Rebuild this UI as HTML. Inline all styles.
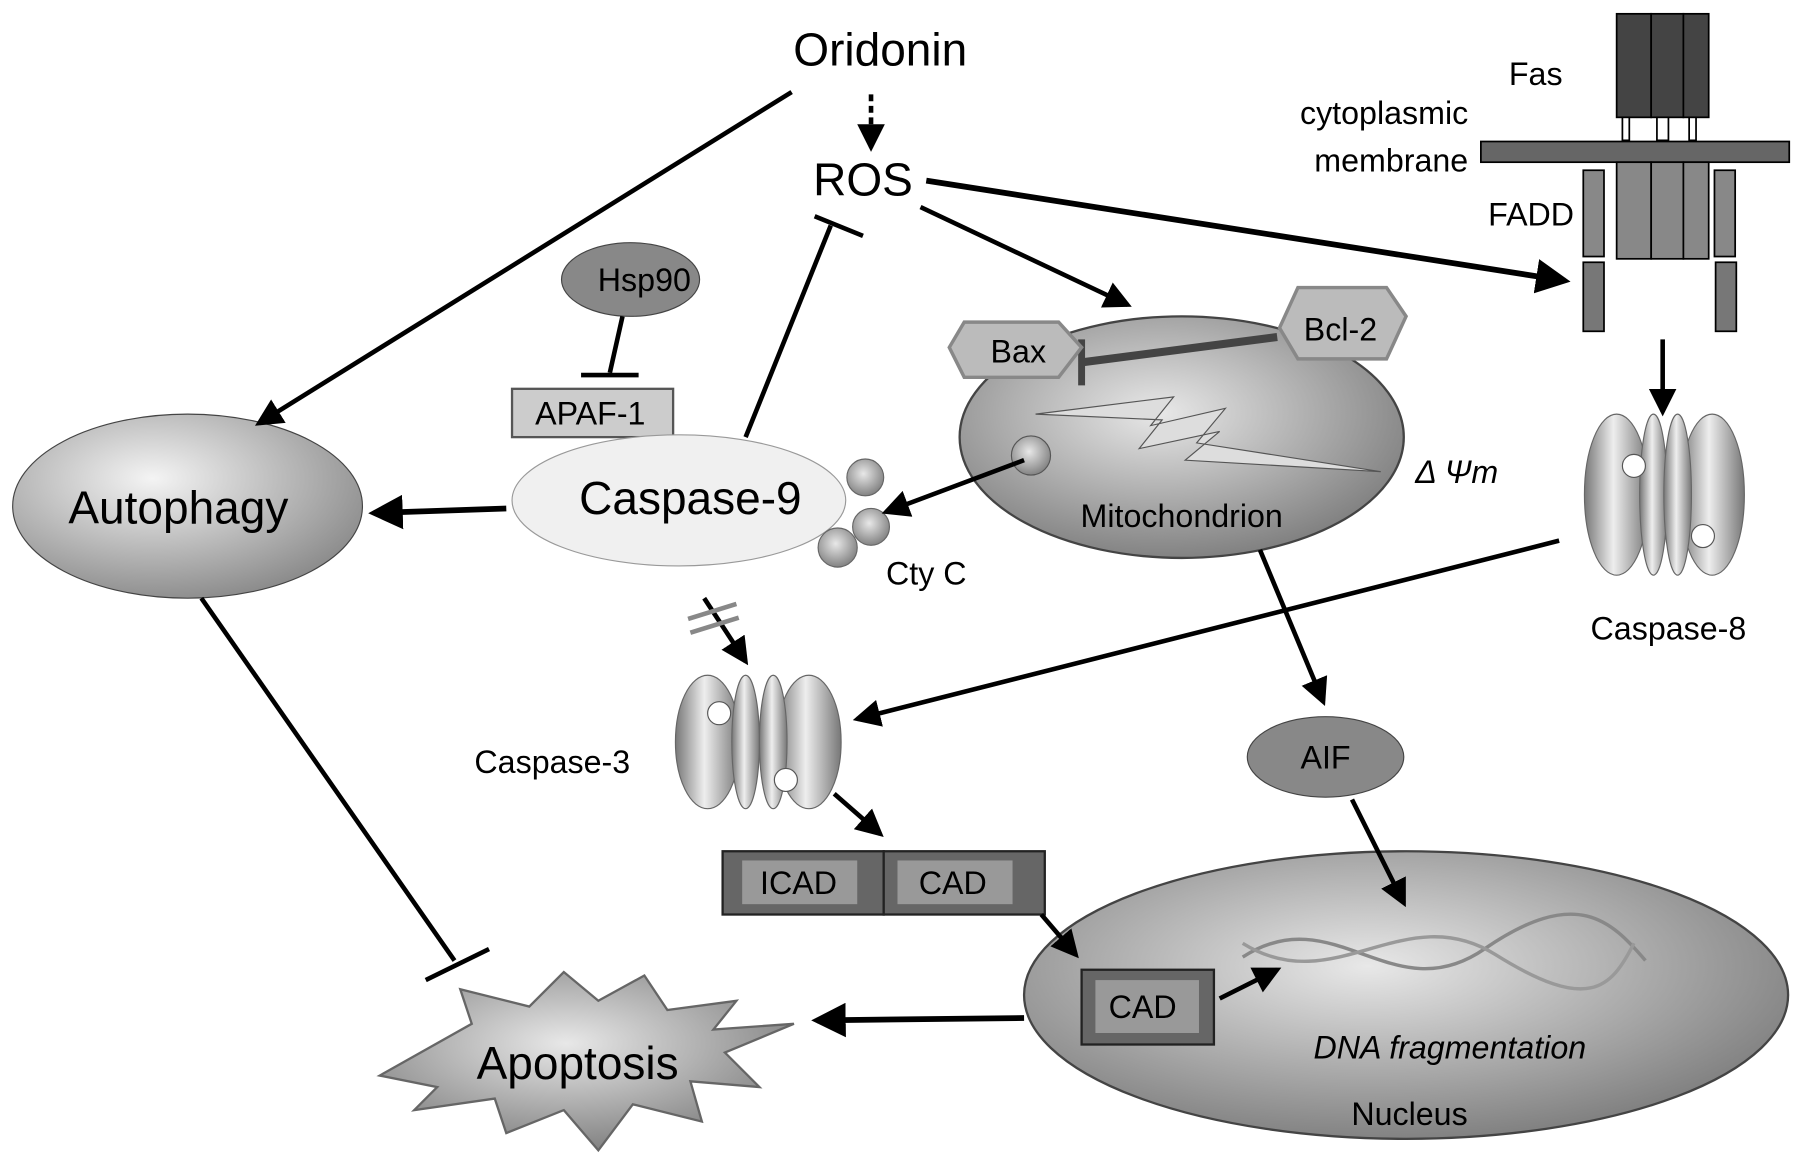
<!DOCTYPE html>
<html><head><meta charset="utf-8"><style>html,body{margin:0;padding:0;background:#fff}svg{display:block}</style></head><body>
<svg width="1795" height="1163" viewBox="0 0 1560 1011" preserveAspectRatio="none" xmlns="http://www.w3.org/2000/svg" font-family="Liberation Sans, sans-serif">
<defs>
<radialGradient id="g1" cx="40%" cy="35%" r="70%"><stop offset="0" stop-color="#f4f4f4"/><stop offset="1" stop-color="#888"/></radialGradient>
<radialGradient id="g2" cx="45%" cy="40%" r="65%"><stop offset="0" stop-color="#e8e8e8"/><stop offset="1" stop-color="#7a7a7a"/></radialGradient>
<linearGradient id="pill" x1="0" x2="1"><stop offset="0" stop-color="#777"/><stop offset="0.45" stop-color="#eee"/><stop offset="1" stop-color="#777"/></linearGradient>
<marker id="ah" markerWidth="6" markerHeight="6" refX="5" refY="3" orient="auto" markerUnits="strokeWidth"><path d="M0,0 L6,3 L0,6 z" fill="#000"/></marker>
</defs>
<rect width="1560" height="1011" fill="#fff"/>
<text x="765" y="57" font-size="40" text-anchor="middle">Oridonin</text>
<text x="750" y="170" font-size="40" text-anchor="middle">ROS</text>
<!-- Fas -->
<g stroke="#000" stroke-width="1.5">
<rect x="1405" y="12" width="30" height="90" fill="#444"/><rect x="1435" y="12" width="28" height="90" fill="#444"/><rect x="1463" y="12" width="22" height="90" fill="#444"/>
<rect x="1410" y="102" width="6" height="20" fill="#fff"/><rect x="1440" y="102" width="10" height="20" fill="#fff"/><rect x="1468" y="102" width="6" height="20" fill="#fff"/>
<rect x="1287" y="123" width="268" height="18" fill="#666"/>
<rect x="1405" y="141" width="30" height="84" fill="#888"/><rect x="1435" y="141" width="28" height="84" fill="#888"/><rect x="1463" y="141" width="22" height="84" fill="#888"/>
<rect x="1376" y="148" width="18" height="75" fill="#888"/><rect x="1376" y="228" width="18" height="60" fill="#777"/>
<rect x="1490" y="148" width="18" height="75" fill="#888"/><rect x="1491" y="228" width="18" height="60" fill="#777"/>
</g>
<text x="1358" y="74" font-size="28" text-anchor="end">Fas</text>
<text x="1276" y="108" font-size="28" text-anchor="end">cytoplasmic</text>
<text x="1276" y="149" font-size="28" text-anchor="end">membrane</text>
<text x="1368" y="196" font-size="28" text-anchor="end">FADD</text>
<ellipse cx="548" cy="243" rx="60" ry="32" fill="#888" stroke="#444"/>
<text x="560" y="253" font-size="28" text-anchor="middle">Hsp90</text>
<rect x="445" y="338" width="140" height="42" fill="#ccc" stroke="#555" stroke-width="2"/>
<text x="513" y="369" font-size="28" text-anchor="middle">APAF-1</text>
<ellipse cx="163" cy="440" rx="152" ry="80" fill="url(#g1)" stroke="#444"/>
<text x="155" y="455" font-size="40" text-anchor="middle">Autophagy</text>
<ellipse cx="590" cy="435" rx="145" ry="57" fill="#f0f0f0" stroke="#999"/>
<text x="600" y="447" font-size="40" text-anchor="middle">Caspase-9</text>
<g fill="url(#g2)" stroke="#666"><circle cx="752" cy="415" r="16"/><circle cx="757" cy="458" r="16"/><circle cx="728" cy="476" r="17"/></g>
<text x="805" y="508" font-size="28" text-anchor="middle">Cty C</text>
<ellipse cx="1027" cy="380" rx="193" ry="105" fill="url(#g2)" stroke="#444" stroke-width="2"/>
<polygon points="900,360 1020,345 1000,370 1065,355 1040,385 1200,410 1030,400 1060,375 990,390 1010,365" fill="#ddd" stroke="#555"/>
<line x1="940" y1="315" x2="1110" y2="293" stroke="#444" stroke-width="7"/><line x1="940" y1="295" x2="940" y2="335" stroke="#444" stroke-width="6"/>
<polygon points="838,280 920,280 940,302 920,328 838,328 825,302" fill="#bbb" stroke="#888" stroke-width="3"/>
<text x="885" y="315" font-size="28" text-anchor="middle">Bax</text>
<polygon points="1128,250 1205,250 1222,275 1205,312 1128,312 1112,285" fill="#bbb" stroke="#888" stroke-width="3"/>
<text x="1165" y="296" font-size="28" text-anchor="middle">Bcl-2</text>
<circle cx="896" cy="396" r="17" fill="url(#g2)" stroke="#555"/>
<text x="1027" y="458" font-size="28" text-anchor="middle">Mitochondrion</text>
<text x="1230" y="420" font-size="28" font-style="italic">Δ Ψm</text>
<g stroke="#666" fill="url(#pill)"><ellipse cx="1405" cy="430" rx="28" ry="70"/><ellipse cx="1488" cy="430" rx="28" ry="70"/><ellipse cx="1437" cy="430" rx="12" ry="70"/><ellipse cx="1458" cy="430" rx="12" ry="70"/></g>
<circle cx="1420" cy="405" r="10" fill="#fff" stroke="#555"/><circle cx="1480" cy="466" r="10" fill="#fff" stroke="#555"/>
<text x="1450" y="556" font-size="28" text-anchor="middle">Caspase-8</text>
<g stroke="#666" fill="url(#pill)"><ellipse cx="615" cy="645" rx="28" ry="58"/><ellipse cx="703" cy="645" rx="28" ry="58"/><ellipse cx="648" cy="645" rx="12" ry="58"/><ellipse cx="672" cy="645" rx="12" ry="58"/></g>
<circle cx="625" cy="620" r="10" fill="#fff" stroke="#555"/><circle cx="683" cy="678" r="10" fill="#fff" stroke="#555"/>
<text x="480" y="672" font-size="28" text-anchor="middle">Caspase-3</text>
<ellipse cx="1152" cy="658" rx="68" ry="35" fill="#888" stroke="#444"/>
<text x="1152" y="668" font-size="28" text-anchor="middle">AIF</text>
<rect x="628" y="740" width="140" height="55" fill="#666" stroke="#222" stroke-width="2"/><rect x="645" y="748" width="100" height="38" fill="#999"/>
<rect x="768" y="740" width="140" height="55" fill="#666" stroke="#222" stroke-width="2"/><rect x="780" y="748" width="100" height="38" fill="#999"/>
<text x="694" y="777" font-size="28" text-anchor="middle">ICAD</text>
<text x="828" y="777" font-size="28" text-anchor="middle">CAD</text>
<ellipse cx="1222" cy="865" rx="332" ry="125" fill="url(#g2)" stroke="#444" stroke-width="2"/>
<path d="M1080,832 C1160,780 1210,880 1290,825 S1400,800 1430,835" stroke="#888" stroke-width="3" fill="none"/>
<path d="M1080,820 C1160,870 1220,780 1300,830 S1400,860 1420,820" stroke="#999" stroke-width="3" fill="none"/>
<rect x="940" y="843" width="115" height="65" fill="#666" stroke="#222" stroke-width="2"/><rect x="952" y="852" width="90" height="46" fill="#999"/>
<text x="993" y="885" font-size="28" text-anchor="middle">CAD</text>
<text x="1260" y="920" font-size="28" font-style="italic" text-anchor="middle">DNA fragmentation</text>
<text x="1225" y="978" font-size="28" text-anchor="middle">Nucleus</text>
<polygon points="330,935 410,890 400,860 460,875 490,845 520,870 560,848 580,878 640,870 620,895 690,890 630,915 660,945 600,940 610,975 550,960 520,1000 490,965 440,985 430,955 360,965 380,945" fill="url(#g2)" stroke="#666" stroke-width="2"/>
<text x="502" y="938" font-size="40" text-anchor="middle">Apoptosis</text>
<g stroke="#000" stroke-width="4" fill="none">
<line x1="688" y1="80" x2="225" y2="368" marker-end="url(#ah)"/>
<line x1="757" y1="82" x2="757" y2="128" stroke-dasharray="6,4" marker-end="url(#ah)"/>
<line x1="805" y1="157" x2="1360" y2="244" stroke-width="5" marker-end="url(#ah)"/>
<line x1="800" y1="180" x2="980" y2="265" marker-end="url(#ah)"/>
<line x1="648" y1="380" x2="722" y2="196"/><line x1="708" y1="188" x2="750" y2="205"/>
<line x1="541" y1="275" x2="530" y2="324"/><line x1="505" y1="326" x2="555" y2="326"/>
<line x1="440" y1="442" x2="325" y2="446" stroke-width="5" marker-end="url(#ah)"/>
<line x1="890" y1="400" x2="770" y2="445" marker-end="url(#ah)"/>
<line x1="1445" y1="295" x2="1445" y2="358" marker-end="url(#ah)"/>
<line x1="1355" y1="470" x2="745" y2="625" marker-end="url(#ah)"/>
<line x1="612" y1="520" x2="648" y2="575" marker-end="url(#ah)"/>
<line x1="1095" y1="478" x2="1150" y2="610" marker-end="url(#ah)"/>
<line x1="175" y1="520" x2="395" y2="835"/><line x1="370" y1="852" x2="425" y2="825"/>
<line x1="725" y1="690" x2="765" y2="725" marker-end="url(#ah)"/>
<line x1="905" y1="795" x2="935" y2="830" marker-end="url(#ah)"/>
<line x1="1175" y1="695" x2="1220" y2="785" marker-end="url(#ah)"/>
<line x1="1060" y1="868" x2="1110" y2="843" marker-end="url(#ah)"/>
<line x1="890" y1="885" x2="710" y2="887" stroke-width="5" marker-end="url(#ah)"/>
</g>
<g stroke="#888" stroke-width="4"><line x1="598" y1="538" x2="640" y2="525"/><line x1="600" y1="550" x2="642" y2="537"/></g>
</svg>
</body></html>
